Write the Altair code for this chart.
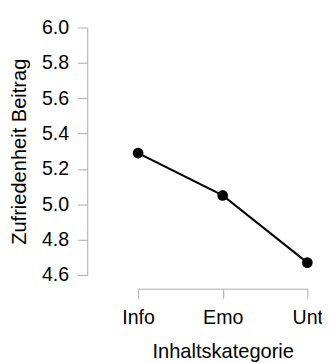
import altair as alt
import pandas as pd

categories = ["Info", "Emo", "Unt"]
values = [5.29, 5.05, 4.67]
y_ticks = [4.6, 4.8, 5.0, 5.2, 5.4, 5.6, 5.8, 6.0]

df = pd.DataFrame({"Inhaltskategorie": categories, "Zufriedenheit": values})

FONT = "Liberation Sans"
AX = "#aaaaaa"

x_enc = alt.X(
    "Inhaltskategorie:N",
    sort=categories,
    scale=alt.Scale(type="point", padding=0),
    axis=alt.Axis(
        title="Inhaltskategorie", labelAngle=0, offset=14,
        domainColor=AX, tickColor=AX, tickSize=10, labelPadding=10,
        labelFontSize=20, titleFontSize=20.5, titlePadding=14,
        labelColor="black", titleColor="black", titleFontWeight="normal",
        labelFont=FONT, titleFont=FONT, grid=False, labelOverlap=False,
    ),
)
y_enc = alt.Y(
    "Zufriedenheit:Q",
    scale=alt.Scale(domain=[4.6, 6.0], zero=False, nice=False),
    axis=alt.Axis(
        title="Zufriedenheit Beitrag", values=y_ticks, format=".1f", offset=52,
        domainColor=AX, tickColor=AX, tickSize=10, labelPadding=9,
        labelFontSize=20, titleFontSize=20.5, titlePadding=12,
        labelColor="black", titleColor="black", titleFontWeight="normal",
        labelFont=FONT, titleFont=FONT, grid=False, labelOverlap=False,
    ),
)

base = alt.Chart(df).encode(x=x_enc, y=y_enc)
line = base.mark_line(color="black", strokeWidth=2)
pts = base.mark_circle(color="black", opacity=1, size=120)

chart = (line + pts).properties(
    width=173, height=253,
    autosize=alt.AutoSizeParams(type="none"),
    padding={"left": 133, "top": 16, "right": 15, "bottom": 85},
).configure_view(stroke=None)

chart.save("out.html", embed_options={"renderer": "svg", "actions": False})
